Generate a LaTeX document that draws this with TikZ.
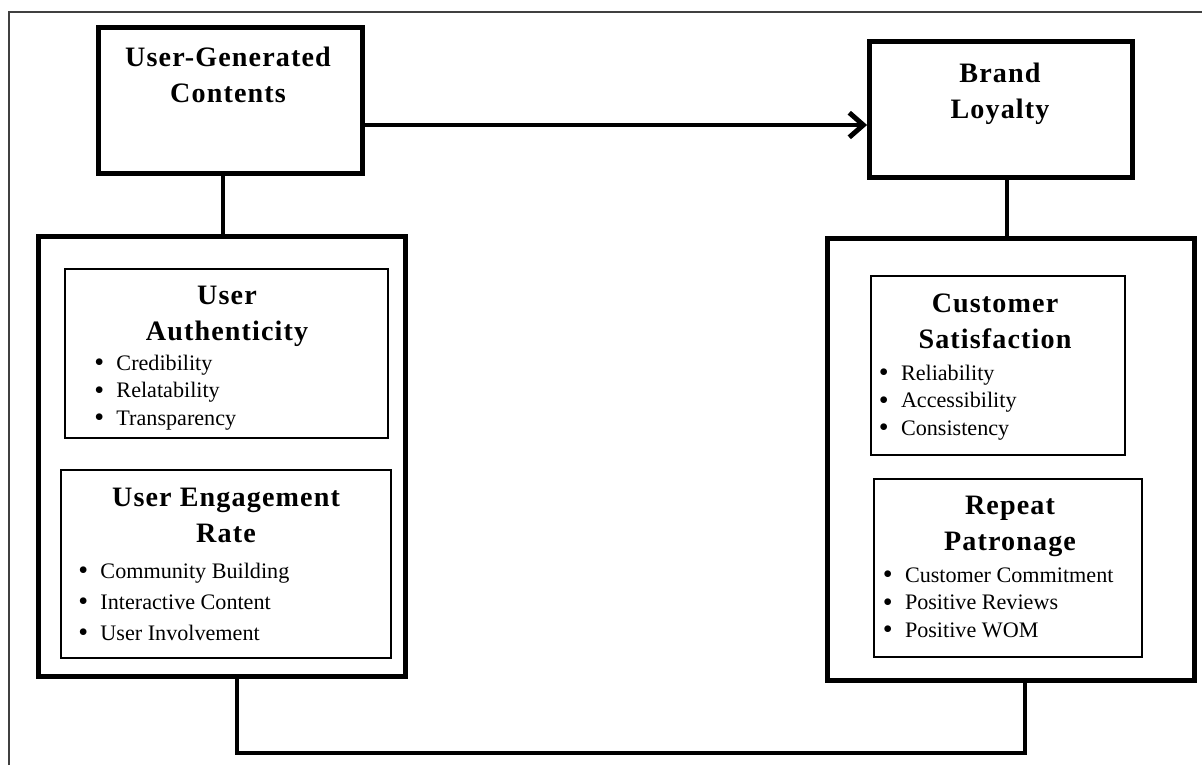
\documentclass[tikz,border=0pt]{standalone}
\usepackage{fontspec}
\setmainfont{Liberation Serif}
\usetikzlibrary{arrows.meta}

\newcommand{\bitem}[1]{\raisebox{-0.8pt}{\fontsize{16}{16}\selectfont\textbullet}\hspace{7pt}#1}

\begin{document}
\begin{tikzpicture}[x=0.02cm, y=-0.02cm,
headbox/.style={draw, rectangle, line width=2.8pt, inner sep=0pt},
bigbox/.style={draw, rectangle, line width=2.8pt, inner sep=0pt},
subbox/.style={draw, rectangle, line width=0.8pt, inner sep=0pt},
heading/.style={anchor=base, align=center, inner sep=0pt, font=\fontsize{16}{20}\selectfont\bfseries\addfontfeatures{LetterSpace=4}},
bullets/.style={anchor=base west, align=left, inner sep=0pt, font=\fontsize{12.6}{15.5}\selectfont},
conn/.style={line width=2.8pt},
frame/.style={line width=0.7pt, black!75}]

\useasboundingbox (0,0) rectangle (1202,765);
\draw[frame] (9,765) |- (1202,12);

% top boxes (text anchored on last line)
\node[headbox, minimum width=5.28cm, minimum height=2.92cm] (ugc) at (230.5,100.5) {};
\node[headbox, minimum width=5.26cm, minimum height=2.72cm] (brand) at (1001,109.5) {};
\node[heading] (ugc-t) at (228,102) {User-Generated\\Contents};
\node[heading] (brand-t) at (1000,118) {Brand\\Loyalty};

% left group
\node[bigbox, minimum width=7.34cm, minimum height=8.8cm] (lbox) at (222,456.5) {};
\node[subbox, minimum width=6.46cm, minimum height=3.38cm] (auth) at (226.5,353.5) {};
\node[subbox, minimum width=6.6cm, minimum height=3.76cm] (eng) at (226,564) {};
\node[heading] (auth-t) at (227,340) {User\\Authenticity};
\node[bullets] (auth-l) at (94,425) {\bitem{Credibility}\\\bitem{Relatability}\\\bitem{Transparency}};
\node[heading] (eng-t) at (226,542) {User Engagement\\Rate};
\node[bullets] (eng-l) at (78,640) {\bitem{Community Building}\\[2pt]\bitem{Interactive Content}\\[2pt]\bitem{User Involvement}};

% right group
\node[bigbox, minimum width=7.34cm, minimum height=8.84cm] (rbox) at (1011,459.5) {};
\node[subbox, minimum width=5.08cm, minimum height=3.58cm] (sat) at (998,365.5) {};
\node[subbox, minimum width=5.36cm, minimum height=3.56cm] (pat) at (1008,568) {};
\node[heading] (sat-t) at (995,348) {Customer\\Satisfaction};
\node[bullets] (sat-l) at (878.5,435) {\bitem{Reliability}\\\bitem{Accessibility}\\\bitem{Consistency}};
\node[heading] (pat-t) at (1010,550) {Repeat\\Patronage};
\node[bullets] (pat-l) at (882.5,637) {\bitem{Customer Commitment}\\\bitem{Positive Reviews}\\\bitem{Positive WOM}};

% connectors
\coordinate (arr) at (0,125);
\draw[conn, -{Straight Barb[length=8pt, width=14pt]}] (ugc.east |- arr) -- (brand.west |- arr);
\coordinate (lstem) at (223,0);
\coordinate (rstem) at (1007,0);
\draw[conn] (ugc.south -| lstem) -- (lbox.north -| lstem);
\draw[conn] (brand.south -| rstem) -- (rbox.north -| rstem);
\coordinate (loopl) at (237,753);
\coordinate (loopr) at (1025,753);
\draw[conn] (lbox.south -| loopl) -- (loopl) -- (loopr) -- (rbox.south -| loopr);
\end{tikzpicture}
\end{document}
